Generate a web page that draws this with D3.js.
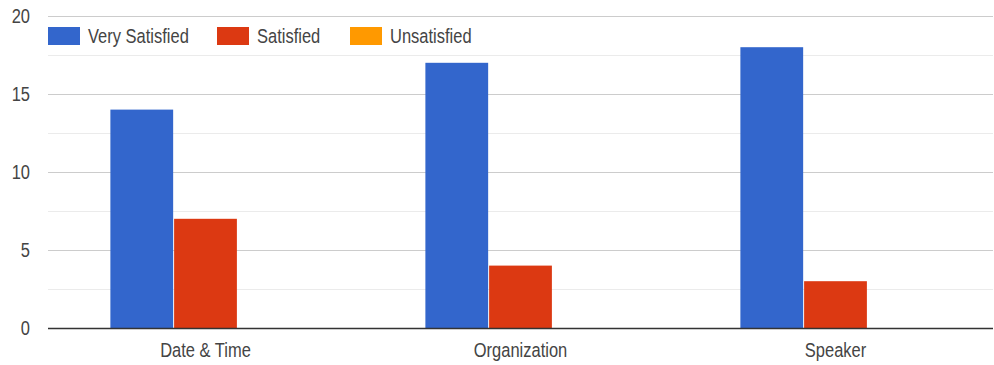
<!DOCTYPE html>
<html>
<head>
<meta charset="utf-8">
<script src="https://cdn.jsdelivr.net/npm/d3@7/dist/d3.min.js"></script>
<style>
  html, body { margin: 0; padding: 0; background: #fff; }
  svg { display: block; font-family: "Liberation Sans", Arial, sans-serif; }
</style>
</head>
<body>
<svg id="chart" width="994" height="365"></svg>
<script>
// Survey responses per topic
const categories = ["Date & Time", "Organization", "Speaker"];
const seriesNames = ["Very Satisfied", "Satisfied", "Unsatisfied"];
const verySatisfied = [14, 17, 18];
const satisfied = [7, 4, 3];
const unsatisfied = [0, 0, 0];
const yTicks = [0, 5, 10, 15, 20];
const colors = ["#3366cc", "#dc3912", "#ff9900"];

const seriesValues = [verySatisfied, satisfied, unsatisfied];

const svg = d3.select("#chart");
const margin = { top: 16, right: 1, bottom: 37, left: 48 };
const W = 994, H = 365;
const innerW = W - margin.left - margin.right;
const innerH = H - margin.top - margin.bottom;
const FS = 16.5;       // label font size
const SY = 1.18;       // vertical stretch of the label glyphs
const textColor = "#444";

const g = svg.append("g").attr("transform", `translate(${margin.left},${margin.top})`);

const y = d3.scaleLinear().domain([0, 20]).range([innerH, 0]);
const x0 = d3.scaleBand().domain(categories).range([0, innerW]).paddingInner(0.39).paddingOuter(0.195);
const x1 = d3.scaleBand().domain(seriesNames).range([0, x0.bandwidth()]).padding(0.015);

// text placed at (x, baseline) with a slight vertical stretch
function label(parent, x, yb, txt, anchor) {
  parent.append("text")
    .attr("transform", `translate(${x},${yb}) scale(1,${SY})`)
    .attr("text-anchor", anchor)
    .attr("font-size", FS)
    .attr("fill", textColor)
    .text(txt);
}

// minor gridlines
const minor = d3.range(2.5, 20, 5);
g.selectAll(".minor").data(minor).join("line")
  .attr("x1", 0).attr("x2", innerW)
  .attr("y1", d => Math.round(y(d)) + 0.5).attr("y2", d => Math.round(y(d)) + 0.5)
  .attr("stroke", "#ebebeb").attr("stroke-width", 1);

// major gridlines
g.selectAll(".major").data(yTicks.filter(d => d > 0)).join("line")
  .attr("x1", 0).attr("x2", innerW)
  .attr("y1", d => Math.round(y(d)) + 0.5).attr("y2", d => Math.round(y(d)) + 0.5)
  .attr("stroke", "#cccccc").attr("stroke-width", 1);

// y axis labels
const ya = g.append("g");
yTicks.forEach(t => label(ya, -18, y(t) + 7, String(t), "end"));

// bars
const groups = g.selectAll(".grp").data(categories).join("g")
  .attr("transform", d => `translate(${x0(d)},0)`);
groups.selectAll("rect").data((c, i) => seriesNames.map((s, j) => ({ s, j, v: seriesValues[j][i] })))
  .join("rect")
  .attr("x", d => x1(d.s))
  .attr("width", x1.bandwidth())
  .attr("y", d => y(d.v))
  .attr("height", d => innerH - y(d.v))
  .attr("fill", d => colors[d.j]);

// baseline
g.append("line").attr("x1", 0).attr("x2", innerW)
  .attr("y1", innerH + 0.5).attr("y2", innerH + 0.5)
  .attr("stroke", "#333").attr("stroke-width", 1.5);

// x axis labels
const xa = g.append("g");
categories.forEach(c => label(xa, x0(c) + x0.bandwidth() / 2, innerH + 29, c, "middle"));

// legend
const legendX = [0, 169, 302];
const leg = g.append("g");
seriesNames.forEach((s, i) => {
  leg.append("rect").attr("x", legendX[i]).attr("y", 11).attr("width", 32).attr("height", 18).attr("fill", colors[i]);
  label(leg, legendX[i] + 40, 27, s, "start");
});
</script>
</body>
</html>
